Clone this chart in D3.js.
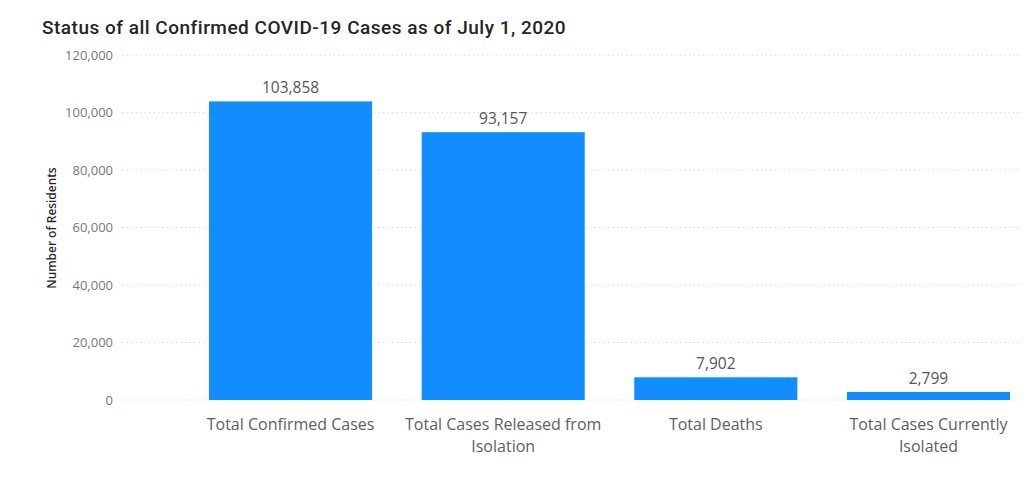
<!DOCTYPE html>
<html><head><meta charset="utf-8">
<script src="https://cdn.jsdelivr.net/npm/d3@7"></script>
<style>
html,body{margin:0;padding:0;background:#fff;}
svg{display:block;}
</style></head>
<body>
<svg id="chart" width="1024" height="482"></svg>
<script>
const title = "Status of all Confirmed COVID-19 Cases as of July 1, 2020";
const categories = ["Total Confirmed Cases", "Total Cases Released from Isolation", "Total Deaths", "Total Cases Currently Isolated"];
const values = [103858, 93157, 7902, 2799];
const yTicks = [0, 20000, 40000, 60000, 80000, 100000, 120000];
const yTitle = "Number of Residents";

const svg = d3.select("#chart");
const y = d3.scaleLinear().domain([0, 120000]).range([400, 55]);
const x = d3.scaleBand().domain(categories).range([209, 1010]).paddingInner(0.233).paddingOuter(0);
const fmt = d3.format(",");
const uiFont = "'Open Sans', 'Noto Sans', sans-serif";

// title
svg.append("text").attr("x", 42).attr("y", 34)
  .attr("font-family", "Roboto, 'DejaVu Sans', sans-serif").attr("font-weight", 500)
  .attr("font-size", 19).attr("letter-spacing", 0.5).attr("fill", "#252423").text(title);

// gridlines
svg.append("g").selectAll("line").data(yTicks).join("line")
  .attr("x1", 122).attr("x2", 1022)
  .attr("y1", d => y(d)).attr("y2", d => y(d))
  .attr("stroke", "#d9d9d9").attr("stroke-width", 1).attr("stroke-dasharray", "1.5,3");

// y axis
const yAxis = d3.axisLeft(y).tickValues(yTicks).tickFormat(fmt).tickSize(0).tickPadding(0);
const gy = svg.append("g").attr("transform", "translate(113,0)").call(yAxis);
gy.select(".domain").remove();
gy.selectAll("text").attr("font-family", uiFont).attr("font-size", 13).attr("fill", "#777");

svg.append("text")
  .attr("transform", "translate(56,228) rotate(-90)")
  .attr("text-anchor", "middle").attr("font-family", "'Noto Sans', 'Open Sans', sans-serif")
  .attr("font-size", 12).attr("font-weight", 500).attr("fill", "#252423").text(yTitle);

// bars
svg.append("g").selectAll("rect").data(values).join("rect")
  .attr("x", (d, i) => x(categories[i]))
  .attr("width", x.bandwidth())
  .attr("y", d => y(d))
  .attr("height", d => y(0) - y(d))
  .attr("fill", "#118DFF");

// data labels
svg.append("g").selectAll("text").data(values).join("text")
  .attr("x", (d, i) => x(categories[i]) + x.bandwidth() / 2)
  .attr("y", d => y(d) - 8)
  .attr("text-anchor", "middle").attr("font-family", uiFont)
  .attr("font-size", 15.5).attr("fill", "#555").text(d => fmt(d));

// x axis
const xAxis = d3.axisBottom(x).tickSize(0).tickPadding(0);
const gx = svg.append("g").attr("transform", "translate(0,414)").call(xAxis);
gx.select(".domain").remove();
gx.selectAll("text").attr("font-family", uiFont).attr("font-size", 16).attr("fill", "#605E5C")
  .attr("dy", null).attr("y", 0)
  .each(function(d) {
    const t = d3.select(this);
    const words = d.split(" ");
    const maxW = 205;
    t.text(null);
    let line = [];
    let tspan = t.append("tspan").attr("x", 0).attr("dy", "1em");
    for (const w of words) {
      line.push(w);
      tspan.text(line.join(" "));
      if (tspan.node().getComputedTextLength() > maxW && line.length > 1) {
        line.pop();
        tspan.text(line.join(" "));
        line = [w];
        tspan = t.append("tspan").attr("x", 0).attr("dy", "1.4em").text(w);
      }
    }
  });
</script>
</body></html>
